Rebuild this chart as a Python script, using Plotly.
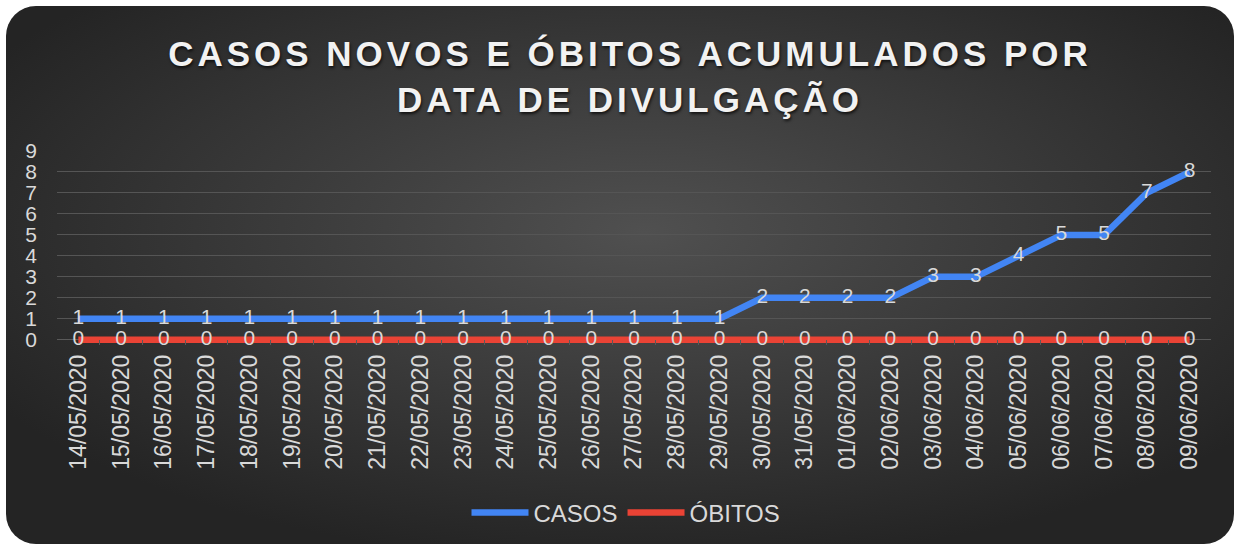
import base64
import plotly.graph_objects as go

datas = ["14/05/2020", "15/05/2020", "16/05/2020", "17/05/2020", "18/05/2020",
         "19/05/2020", "20/05/2020", "21/05/2020", "22/05/2020", "23/05/2020",
         "24/05/2020", "25/05/2020", "26/05/2020", "27/05/2020", "28/05/2020",
         "29/05/2020", "30/05/2020", "31/05/2020", "01/06/2020", "02/06/2020",
         "03/06/2020", "04/06/2020", "05/06/2020", "06/06/2020", "07/06/2020",
         "08/06/2020", "09/06/2020"]
casos = [1, 1, 1, 1, 1, 1, 1, 1, 1, 1, 1, 1, 1, 1, 1, 1,
         2, 2, 2, 2, 3, 3, 4, 5, 5, 7, 8]
obitos = [0] * 27
y_ticks = [0, 1, 2, 3, 4, 5, 6, 7, 8, 9]

W, H = 1240, 548
L, R, T, B = 57, 29, 151, 203
PW, PH = W - L - R, H - T - B

svg = f'''<svg xmlns="http://www.w3.org/2000/svg" width="{W}" height="{H}" viewBox="0 0 {W} {H}">
<defs><radialGradient id="g" cx="52%" cy="42%" r="62%" gradientUnits="objectBoundingBox">
<stop offset="0" stop-color="#505050"/><stop offset="1" stop-color="#242424"/></radialGradient></defs>
<rect x="0" y="0" width="{W}" height="{H}" fill="#ffffff"/>
<rect x="6" y="6" width="{W-12}" height="{H-10}" rx="30" ry="30" fill="url(#g)"/>
</svg>'''
bg_uri = "data:image/svg+xml;base64," + base64.b64encode(svg.encode()).decode()

txt = "#d9d9d9"
font = "Liberation Sans, Arial, sans-serif"

fig = go.Figure()
fig.add_trace(go.Scatter(
    x=datas, y=casos, name="CASOS", mode="lines+text",
    line=dict(color="#4285f4", width=6.5),
    text=[str(v) for v in casos], textposition="middle center",
    textfont=dict(size=21, color=txt, family=font), cliponaxis=False,
))
fig.add_trace(go.Scatter(
    x=datas, y=obitos, name="ÓBITOS", mode="lines+text",
    line=dict(color="#ea4335", width=6.5),
    text=[str(v) for v in obitos], textposition="middle center",
    textfont=dict(size=21, color=txt, family=font), cliponaxis=False,
))

fig.update_layout(
    width=W, height=H,
    margin=dict(l=L, r=R, t=T, b=B, pad=0),
    paper_bgcolor="#ffffff",
    plot_bgcolor="rgba(0,0,0,0)",
    font=dict(family=font, color=txt),
    title=dict(
        text="CASOS NOVOS E ÓBITOS ACUMULADOS POR<br>DATA DE DIVULGAÇÃO",
        x=630 / W, xref="container", xanchor="center",
        y=1 - 66 / H, yref="container", yanchor="top",
        font=dict(size=35, color="#f2f2f2", family=font, weight="bold",
                  shadow="1px 2px 3px rgba(0,0,0,0.7)"),
    ),
    showlegend=True,
    legend=dict(
        orientation="h", x=(626 - L) / PW, xanchor="center",
        y=(345 - 513) / PH, yanchor="middle",
        font=dict(size=24, color=txt, family=font),
        bgcolor="rgba(0,0,0,0)", itemwidth=57, traceorder="normal",
    ),
    images=[dict(
        source=bg_uri, xref="paper", yref="paper",
        x=-L / PW, y=1 + T / PH, sizex=W / PW, sizey=H / PH,
        xanchor="left", yanchor="top", sizing="stretch", layer="below",
    )],
)

fig.update_xaxes(
    type="category", tickson="boundaries", showgrid=False,
    range=[-0.5, len(datas) - 0.5],
    showline=False,
    ticks="inside", ticklen=5, tickcolor="#5a5a5a", tickwidth=1.3,
    tickangle=-90, tickfont=dict(size=23, color=txt, family=font),
    ticklabelstandoff=4,
)
fig.update_yaxes(
    range=[-0.25, 9], tickvals=y_ticks, showgrid=True, gridcolor="#555555", gridwidth=1.3,
    zeroline=True, zerolinecolor="#5a5a5a", zerolinewidth=1.3,
    showline=False, ticks="",
    tickfont=dict(size=21, color=txt, family=font), ticklabelstandoff=19,
)

post = """
document.body.style.margin='0';
document.querySelectorAll('.gtitle').forEach(function(e){e.style.letterSpacing='4px';});
"""
fig.write_html("out.html", post_script=post, config={"displayModeBar": False})
